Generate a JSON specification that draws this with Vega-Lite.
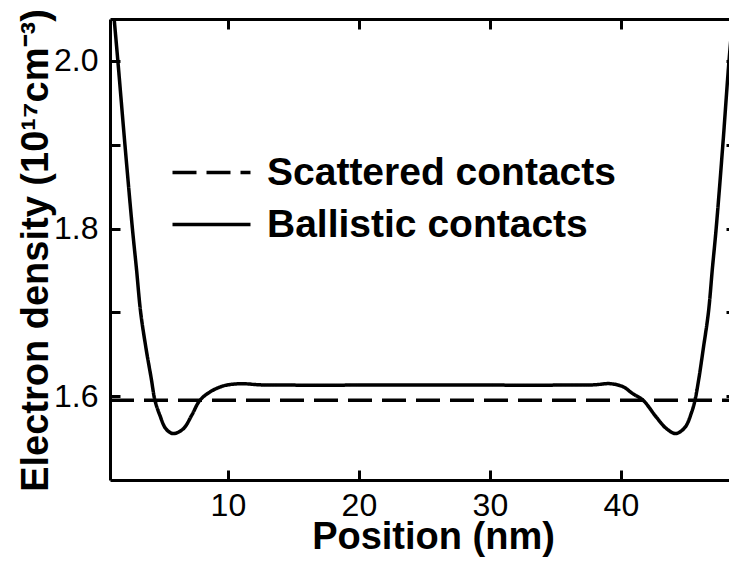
{
  "$schema": "https://vega.github.io/schema/vega-lite/v6.json",
  "autosize": "none",
  "padding": {"left": 110, "top": 19, "right": 0, "bottom": 85},
  "width": 619,
  "height": 461,
  "background": "white",
  "config": {
    "view": {"stroke": null},
    "font": "Liberation Sans",
    "axis": {
      "grid": false,
      "domainColor": "black",
      "domainWidth": 3,
      "tickColor": "black",
      "tickWidth": 3,
      "labelColor": "black",
      "labelFont": "Liberation Sans",
      "labelFontSize": 32,
      "titleColor": "black",
      "titleFont": "Liberation Sans",
      "titleFontWeight": "bold"
    },
    "legend": {
      "labelFont": "Liberation Sans",
      "labelFontSize": 39,
      "labelFontWeight": "bold",
      "labelColor": "black",
      "labelLimit": 0
    }
  },
  "data": {
    "values": [
      {"series": "Scattered contacts", "position": 1.0, "density": 1.595},
      {"series": "Scattered contacts", "position": 48.25, "density": 1.595},
      {"series": "Ballistic contacts", "position": 1.3, "density": 2.053},
      {"series": "Ballistic contacts", "position": 1.6, "density": 2.0},
      {"series": "Ballistic contacts", "position": 2.14, "density": 1.9},
      {"series": "Ballistic contacts", "position": 2.71, "density": 1.8},
      {"series": "Ballistic contacts", "position": 3.02, "density": 1.752},
      {"series": "Ballistic contacts", "position": 3.34, "density": 1.7},
      {"series": "Ballistic contacts", "position": 3.76, "density": 1.656},
      {"series": "Ballistic contacts", "position": 4.15, "density": 1.621},
      {"series": "Ballistic contacts", "position": 4.43, "density": 1.595},
      {"series": "Ballistic contacts", "position": 4.81, "density": 1.577},
      {"series": "Ballistic contacts", "position": 5.27, "density": 1.561},
      {"series": "Ballistic contacts", "position": 5.82, "density": 1.5554},
      {"series": "Ballistic contacts", "position": 6.59, "density": 1.561},
      {"series": "Ballistic contacts", "position": 7.23, "density": 1.577},
      {"series": "Ballistic contacts", "position": 7.86, "density": 1.595},
      {"series": "Ballistic contacts", "position": 8.63, "density": 1.605},
      {"series": "Ballistic contacts", "position": 9.64, "density": 1.6122},
      {"series": "Ballistic contacts", "position": 10.92, "density": 1.6149},
      {"series": "Ballistic contacts", "position": 12.5, "density": 1.6135},
      {"series": "Ballistic contacts", "position": 15.0, "density": 1.6132},
      {"series": "Ballistic contacts", "position": 20.0, "density": 1.6132},
      {"series": "Ballistic contacts", "position": 25.0, "density": 1.6132},
      {"series": "Ballistic contacts", "position": 30.0, "density": 1.6132},
      {"series": "Ballistic contacts", "position": 35.0, "density": 1.6132},
      {"series": "Ballistic contacts", "position": 37.9, "density": 1.6135},
      {"series": "Ballistic contacts", "position": 39.2, "density": 1.6149},
      {"series": "Ballistic contacts", "position": 40.2, "density": 1.611},
      {"series": "Ballistic contacts", "position": 40.9, "density": 1.603},
      {"series": "Ballistic contacts", "position": 41.7, "density": 1.595},
      {"series": "Ballistic contacts", "position": 42.7, "density": 1.575},
      {"series": "Ballistic contacts", "position": 43.5, "density": 1.561},
      {"series": "Ballistic contacts", "position": 44.2, "density": 1.5554},
      {"series": "Ballistic contacts", "position": 44.9, "density": 1.563},
      {"series": "Ballistic contacts", "position": 45.4, "density": 1.581},
      {"series": "Ballistic contacts", "position": 45.65, "density": 1.595},
      {"series": "Ballistic contacts", "position": 45.95, "density": 1.621},
      {"series": "Ballistic contacts", "position": 46.28, "density": 1.656},
      {"series": "Ballistic contacts", "position": 46.68, "density": 1.7},
      {"series": "Ballistic contacts", "position": 46.98, "density": 1.752},
      {"series": "Ballistic contacts", "position": 47.27, "density": 1.8},
      {"series": "Ballistic contacts", "position": 47.78, "density": 1.9},
      {"series": "Ballistic contacts", "position": 48.25, "density": 2.0},
      {"series": "Ballistic contacts", "position": 48.55, "density": 2.053}
    ]
  },
  "resolve": {"axis": {"x": "independent", "y": "independent"}},
  "layer": [
    {
      "transform": [{"filter": "datum.series === 'Scattered contacts'"}],
      "mark": {"type": "line", "color": "black", "strokeWidth": 3.5, "clip": true},
      "encoding": {
        "x": {
          "field": "position", "type": "quantitative",
          "scale": {"domain": [1.0, 48.25], "nice": false, "zero": false},
          "axis": {
            "orient": "bottom",
            "values": [10, 20, 30, 40],
            "tickSize": -10,
            "labelPadding": 20,
            "title": "Position (nm)",
            "titleFontSize": 38,
            "titleX": 323,
            "titleY": 68,
            "titleAlign": "center",
            "titleAnchor": null,
            "titleBaseline": "alphabetic"
          }
        },
        "y": {
          "field": "density", "type": "quantitative",
          "scale": {"domain": [1.5, 2.05], "nice": false, "zero": false},
          "axis": {
            "orient": "left",
            "values": [1.6, 1.7, 1.8, 1.9, 2.0],
            "tickSize": -10,
            "labelPadding": 22,
            "labelExpr": "round(datum.value * 10) % 2 == 0 ? format(datum.value, '.1f') : ''",
            "title": "Electron density (10¹⁷cm⁻³)",
            "titleFontSize": 38,
            "titleAngle": -90,
            "titleX": -63,
            "titleY": 231,
            "titleAlign": "center",
            "titleAnchor": null,
            "titleBaseline": "alphabetic"
          }
        },
        "strokeDash": {
          "field": "series", "type": "nominal",
          "scale": {"domain": ["Scattered contacts", "Ballistic contacts"], "range": [[24, 10], [1, 0]]},
          "legend": {
            "title": null,
            "orient": "none",
            "legendX": 80,
            "legendY": 132,
            "padding": 0,
            "symbolType": "M-2,0H2",
            "symbolSize": 1521,
            "symbolStrokeWidth": 3.5,
            "symbolStrokeColor": "black",
            "labelOffset": 34,
            "rowPadding": 10
          }
        }
      }
    },
    {
      "transform": [{"filter": "datum.series === 'Ballistic contacts'"}],
      "mark": {"type": "line", "color": "black", "strokeWidth": 3.5, "interpolate": "catmull-rom", "clip": true},
      "encoding": {
        "x": {
          "field": "position", "type": "quantitative",
          "axis": {"orient": "top", "values": [10, 20, 30, 40], "tickSize": -10, "labels": false, "title": null}
        },
        "y": {
          "field": "density", "type": "quantitative",
          "axis": {"orient": "right", "values": [1.6, 1.7, 1.8, 1.9, 2.0], "tickSize": -3, "domain": false, "labels": false, "title": null}
        },
        "strokeDash": {"field": "series", "type": "nominal"}
      }
    }
  ]
}
